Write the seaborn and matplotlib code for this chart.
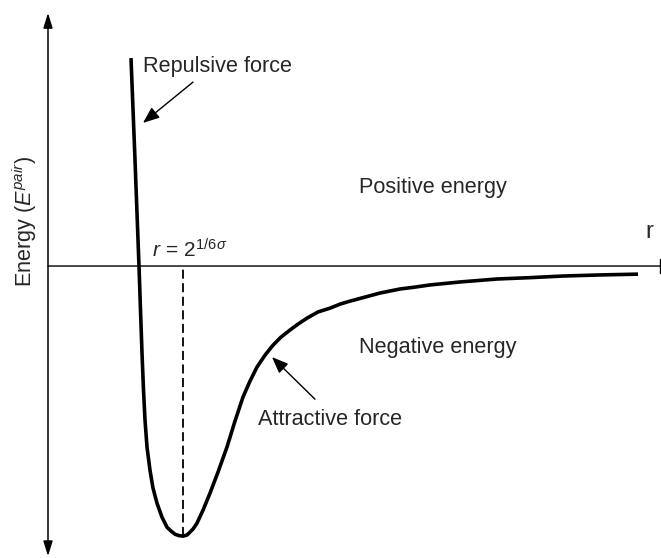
import numpy as np
import matplotlib
matplotlib.use('Agg')
import matplotlib.pyplot as plt
import seaborn as sns

# Lennard-Jones style pair energy curve
# r in arbitrary distance units, energy in units of the well depth
r_vals = [0.83, 0.87, 0.89, 0.91, 0.925, 0.94, 0.955, 0.97, 0.99, 1.02,
          1.05, 1.09, 1.14, 1.19, 1.23, 1.27, 1.31, 1.35, 1.39, 1.45, 1.49,
          1.55, 1.62, 1.70, 1.79, 1.87, 1.95, 2.02, 2.09, 2.17, 2.25, 2.33,
          2.42, 2.50, 2.59, 2.70, 2.82, 2.92, 3.02, 3.17, 3.32, 3.52, 3.67,
          3.82, 4.12, 4.49, 4.82, 5.15, 5.52, 5.90]
energy_vals = [0.770, 0.393, 0.196, 0.0, -0.163, -0.322, -0.459, -0.570,
               -0.670, -0.756, -0.822, -0.878, -0.930, -0.967, -0.981, -0.993,
               -0.998, -1.000, -0.996, -0.974, -0.952, -0.904, -0.841, -0.763,
               -0.670, -0.574, -0.485, -0.426, -0.374, -0.330, -0.293, -0.263,
               -0.237, -0.215, -0.193, -0.170, -0.156, -0.141, -0.130, -0.115,
               -0.100, -0.085, -0.078, -0.070, -0.059, -0.048, -0.043, -0.037,
               -0.033, -0.030]

sns.set_style('white')
plt.rcParams['font.family'] = ['Liberation Sans', 'DejaVu Sans']
plt.rcParams['mathtext.fontset'] = 'custom'
plt.rcParams['mathtext.rm'] = 'Liberation Sans'
plt.rcParams['mathtext.it'] = 'Liberation Sans:italic'
plt.rcParams['mathtext.sf'] = 'Liberation Sans'

fig = plt.figure(figsize=(6.61, 5.58), dpi=100)
ax = fig.add_axes([0, 0, 1, 1])
ax.set_xlim(-0.48, 6.13)
ax.set_ylim(-1.081, 0.985)
ax.axis('off')

# axes drawn as arrows
ax.annotate('', xy=(0, 0.937), xytext=(0, -1.074),
            arrowprops=dict(arrowstyle='<|-|>,head_length=0.45,head_width=0.14',
                            mutation_scale=20, color='black', lw=1.1,
                            shrinkA=0, shrinkB=0))
ax.annotate('', xy=(6.12, 0), xytext=(0, 0),
            arrowprops=dict(arrowstyle='-[,widthB=0.25,lengthB=0',
                            mutation_scale=20, color='black', lw=1.0,
                            shrinkA=0, shrinkB=0))

# the curve
sns.lineplot(x=r_vals, y=energy_vals, ax=ax, color='black', lw=2.6,
             sort=False, estimator=None)
for line in ax.get_lines():
    line.set_solid_joinstyle('round')
    line.set_solid_capstyle('butt')

# dashed line at the minimum
i_min = int(np.argmin(energy_vals))
ax.vlines(r_vals[i_min], energy_vals[i_min], 0, colors='black',
          linestyles=(0, (5, 2.5)), lw=1.3)

fs = 15.6
ax.text(0.95, 0.719, 'Repulsive force', fontsize=fs, ha='left', va='baseline')
ax.text(3.11, 0.270, 'Positive energy', fontsize=fs, ha='left', va='baseline')
ax.text(3.11, -0.322, 'Negative energy', fontsize=fs, ha='left', va='baseline')
ax.text(2.10, -0.589, 'Attractive force', fontsize=fs, ha='left', va='baseline')
ax.text(5.97, 0.104, 'r', fontsize=17, ha='left', va='baseline')
ax.text(1.04, 0.033, r'$r\, = \,\mathrm{2}^{1/6\sigma}$', fontsize=15,
        ha='left', va='baseline')
ax.text(-0.235, 0.167, r'Energy ($E^{pair}$)', fontsize=fs, rotation=90,
        ha='center', va='center')

arrow_kw = dict(arrowstyle='-|>,head_length=0.5,head_width=0.2',
                mutation_scale=20, color='black', lw=1.0, shrinkA=0, shrinkB=0)
ax.annotate('', xy=(0.95, 0.530), xytext=(1.45, 0.681), arrowprops=arrow_kw)
ax.annotate('', xy=(2.24, -0.337), xytext=(2.67, -0.493), arrowprops=arrow_kw)

plt.savefig('out.png', dpi=100)
